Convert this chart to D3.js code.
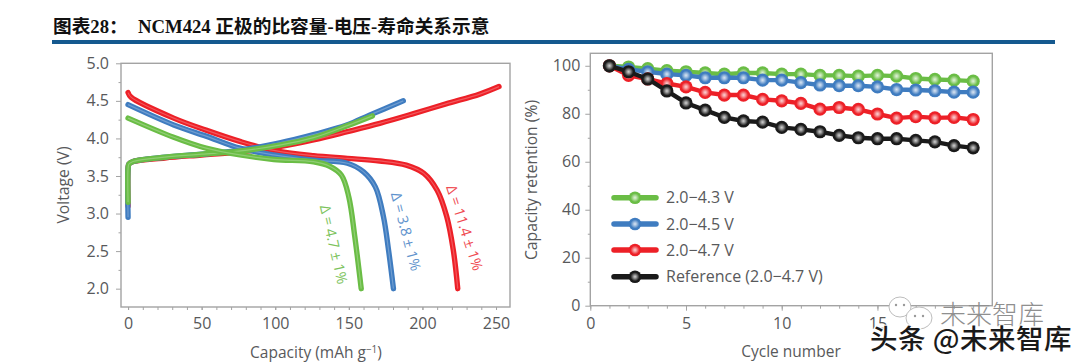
<!DOCTYPE html>
<html>
<head>
<meta charset="utf-8">
<script src="https://cdn.jsdelivr.net/npm/d3@7"></script>
<style>
  html, body { margin: 0; padding: 0; background: #fff; }
  svg { display: block; }
  text { font-family: "Open Sans", sans-serif; fill: #58595b; }
</style>
</head>
<body>
<svg id="chart" width="1080" height="364"></svg>
<script>
// voltage profiles, [capacity, voltage]
const charge47 = [[0, 3.1], [0, 3.6], [0.6, 3.66], [3, 3.69], [25, 3.74], [50, 3.78], [75, 3.82], [103, 3.89], [126, 3.98], [149, 4.09], [171, 4.2], [194, 4.33], [216, 4.46], [239, 4.59], [252, 4.69]];
const charge45 = [[0, 2.95], [0, 3.6], [0.6, 3.66], [3, 3.69], [25, 3.75], [50, 3.79], [75, 3.84], [103, 3.94], [126, 4.05], [149, 4.18], [164, 4.31], [187, 4.5]];
const charge43 = [[0, 3.15], [0, 3.6], [0.6, 3.66], [3, 3.69], [25, 3.75], [50, 3.79], [75, 3.83], [103, 3.91], [126, 4.01], [149, 4.17], [166, 4.3]];
const discharge47 = [[0, 4.61], [2, 4.55], [31, 4.27], [53, 4.11], [76, 3.96], [99, 3.84], [126, 3.77], [149, 3.735], [171, 3.7], [189, 3.645], [201, 3.535], [210, 3.31], [216.5, 2.96], [221, 2.51], [224, 2.0]];
const discharge45 = [[0, 4.45], [31, 4.18], [53, 4.03], [76, 3.87], [99, 3.78], [126, 3.71], [149, 3.67], [160, 3.555], [168, 3.355], [173.5, 2.96], [177, 2.51], [180.3, 2.0]];
const discharge43 = [[0, 4.27], [31, 4.015], [53, 3.87], [76, 3.78], [99, 3.72], [126, 3.69], [137, 3.63], [145, 3.51], [150, 3.22], [154, 2.7], [158.4, 2.0]];

// capacity retention per cycle
const cycles = d3.range(1, 21);
const retention43 = [100, 99.5, 98.8, 98, 97.5, 97, 96.5, 97, 97, 96.5, 96.5, 96, 96, 95.7, 96, 95.7, 94.7, 94.3, 94, 93.6];
const retention45 = [100, 98.5, 97.5, 96.5, 96, 95, 95, 95, 94, 94, 93, 92, 91.7, 91.7, 91.2, 90.1, 89.9, 89.6, 89, 89];
const retention47 = [100, 96, 94.5, 92.6, 91.2, 88.9, 87.8, 87.8, 86, 85.4, 84.3, 81.9, 82.6, 81.8, 79.9, 78.2, 78.8, 78.3, 78.5, 77.6];
const retentionRef = [100, 97.5, 94.5, 89.5, 84.5, 81.5, 78.5, 77, 76.5, 74.3, 73.5, 72.5, 71, 70, 69.6, 69.6, 68.9, 68.3, 66.7, 65.8];

const legendLabels = ["2.0\u22124.3 V", "2.0\u22124.5 V", "2.0\u22124.7 V", "Reference (2.0\u22124.7 V)"];

const green = "#6abd45", blue = "#3f7cc0", red = "#ed2027", black = "#1a1a1a";
const axisGrey = "#a3a3a3";

const svg = d3.select("#chart");

// heading
const head = svg.append("text").attr("x", 53).attr("y", 32.5)
  .style("font-family", '"Liberation Serif", "Noto Sans CJK SC", serif')
  .style("font-weight", 700).style("font-size", "18.7px").style("fill", "#111");
head.append("tspan").text("图表28：");
head.append("tspan").attr("x", 138).text("NCM424 正极的比容量-电压-寿命关系示意");
svg.append("rect").attr("x", 52).attr("y", 40).attr("width", 1003).attr("height", 4).attr("fill", "#15598f");

// ---- left panel
const xV = d3.scaleLinear().domain([-4.8, 259.5]).range([121, 510]);
const yV = d3.scaleLinear().domain([1.756, 5]).range([307, 63.3]);

const frame = (x0, x1, y0, y1) => svg.append("rect")
  .attr("x", x0).attr("y", y1).attr("width", x1 - x0).attr("height", y0 - y1)
  .attr("fill", "none").attr("stroke", axisGrey).attr("stroke-width", 1.4);

function styleAxis(g) {
  g.select(".domain").remove();
  g.selectAll("line").attr("stroke", axisGrey).attr("stroke-width", 1);
  g.selectAll("text").style("font-size", "16px").style("fill", "#58595b");
}

frame(121, 510, 307, 63.3);
svg.append("g").attr("transform", "translate(0,307)")
  .call(d3.axisBottom(xV).tickValues(d3.range(0, 251, 10)).tickSize(3).tickFormat(""))
  .call(styleAxis);
svg.append("g").attr("transform", "translate(0,307)")
  .call(d3.axisBottom(xV).tickValues(d3.range(0, 251, 50)).tickSize(3).tickPadding(8))
  .call(styleAxis);
svg.append("g").attr("transform", "translate(121,0)")
  .call(d3.axisLeft(yV).tickValues(d3.range(2.25, 5, 0.5)).tickSize(2.5).tickFormat(""))
  .call(styleAxis);
svg.append("g").attr("transform", "translate(121,0)")
  .call(d3.axisLeft(yV).tickValues(d3.range(2, 5.01, 0.5)).tickSize(5).tickPadding(7).tickFormat(d3.format(".1f")))
  .call(styleAxis);

svg.append("text").attr("transform", "translate(69,185) rotate(-90)").attr("text-anchor", "middle")
  .style("font-size", "15.7px").text("Voltage (V)");
const capLabel = svg.append("text").attr("x", 316).attr("y", 358).attr("text-anchor", "middle").style("font-size", "15.5px");
capLabel.append("tspan").text("Capacity (mAh g");
capLabel.append("tspan").attr("dy", -5).style("font-size", "10px").text("\u22121");
capLabel.append("tspan").attr("dy", 5).text(")");

const voltLine = d3.line().x(d => xV(d[0])).y(d => yV(d[1])).curve(d3.curveCatmullRom.alpha(0.5));

function drawProfile(points, colour) {
  svg.append("path").datum(points).attr("d", voltLine).attr("fill", "none")
    .attr("stroke", colour).attr("stroke-width", 5.4).attr("stroke-linecap", "round").attr("stroke-linejoin", "round");
  svg.append("path").datum(points).attr("d", voltLine).attr("fill", "none")
    .attr("stroke", "#fff").attr("stroke-opacity", 0.25).attr("stroke-width", 1.2);
}
drawProfile(charge47, red);
drawProfile(discharge47, red);
drawProfile(charge45, blue);
drawProfile(discharge45, blue);
drawProfile(charge43, green);
drawProfile(discharge43, green);

const deltaLabels = [
  { text: "\u0394 = 11.4 \u00b1 1%", colour: "#ef4b52", cap: 228.6, v: 2.81, rot: 72 },
  { text: "\u0394 = 3.8 \u00b1 1%", colour: "#5f93cd", cap: 188.8, v: 2.76, rot: 75.4 },
  { text: "\u0394 = 4.7 \u00b1 1%", colour: "#7cc35c", cap: 139.7, v: 2.59, rot: 77 }
];
deltaLabels.forEach(d => {
  svg.append("text")
    .attr("transform", `translate(${xV(d.cap)},${yV(d.v)}) rotate(${d.rot})`)
    .attr("dy", "0.35em").attr("text-anchor", "middle")
    .style("font-size", "14.5px").style("fill", d.colour).text(d.text);
});

// ---- right panel
const xC = d3.scaleLinear().domain([0, 21]).range([590.3, 992.3]);
const yR = d3.scaleLinear().domain([0, 105.2]).range([305.7, 53.3]);

frame(590.3, 992.3, 305.7, 53.3);
svg.append("g").attr("transform", "translate(0,305.7)")
  .call(d3.axisBottom(xC).tickValues(d3.range(0, 21, 1)).tickSize(3).tickFormat(""))
  .call(styleAxis);
svg.append("g").attr("transform", "translate(0,305.7)")
  .call(d3.axisBottom(xC).tickValues([0, 5, 10, 15]).tickSize(5).tickPadding(7))
  .call(styleAxis);
svg.append("g").attr("transform", "translate(590.3,0)")
  .call(d3.axisLeft(yR).tickValues(d3.range(10, 100, 20)).tickSize(2.5).tickFormat(""))
  .call(styleAxis);
svg.append("g").attr("transform", "translate(590.3,0)")
  .call(d3.axisLeft(yR).tickValues(d3.range(0, 101, 20)).tickSize(5).tickPadding(5))
  .call(styleAxis);

svg.append("text").attr("transform", "translate(537,180) rotate(-90)").attr("text-anchor", "middle")
  .style("font-size", "15.7px").text("Capacity retention (%)");
svg.append("text").attr("x", 791).attr("y", 357).attr("text-anchor", "middle")
  .style("font-size", "15.5px").text("Cycle number");

// shiny ball markers
const defs = svg.append("defs");
const ballFill = (name, colour) => {
  const grad = defs.append("radialGradient").attr("id", name);
  grad.append("stop").attr("offset", "0%").attr("stop-color", d3.interpolateRgb(colour, "#fff")(0.8));
  grad.append("stop").attr("offset", "25%").attr("stop-color", d3.interpolateRgb(colour, "#fff")(0.55));
  grad.append("stop").attr("offset", "70%").attr("stop-color", colour);
  return `url(#${name})`;
};

const retLine = d3.line().x((d, i) => xC(cycles[i])).y(d => yR(d));
const retentionSeries = [
  { name: "g", values: retention43, colour: green },
  { name: "b", values: retention45, colour: blue },
  { name: "r", values: retention47, colour: red },
  { name: "k", values: retentionRef, colour: black }
];
retentionSeries.forEach((s, i) => {
  const fill = ballFill("ball-" + s.name, s.colour);
  svg.append("path").datum(s.values).attr("d", retLine).attr("fill", "none")
    .attr("stroke", s.colour).attr("stroke-width", 4.4);
  svg.append("g").selectAll("circle").data(s.values).join("circle")
    .attr("cx", (d, j) => xC(cycles[j])).attr("cy", d => yR(d)).attr("r", 6.6).attr("fill", fill);

  // legend row
  const ly = [197.7, 224, 250, 276.7][i];
  svg.append("line").attr("x1", 614).attr("x2", 656).attr("y1", ly).attr("y2", ly)
    .attr("stroke", s.colour).attr("stroke-width", 5.5).attr("stroke-linecap", "round");
  svg.append("circle").attr("cx", 635).attr("cy", ly).attr("r", 6.3).attr("fill", fill);
  svg.append("text").attr("x", 666).attr("y", ly + 5.5).style("font-size", "16px").text(legendLabels[i]);
});

// watermark over the corner
const mark = svg.append("g");
[[900, 307, 11, 10], [919, 318, 13, 11]].forEach(b => {
  mark.append("ellipse").attr("cx", b[0]).attr("cy", b[1]).attr("rx", b[2]).attr("ry", b[3])
    .attr("fill", "#fff").attr("stroke", "#bdbdbd").attr("stroke-width", 1);
  mark.append("circle").attr("cx", b[0] - 4).attr("cy", b[1] - 2).attr("r", 1.2).attr("fill", "#999");
  mark.append("circle").attr("cx", b[0] + 4).attr("cy", b[1] - 2).attr("r", 1.2).attr("fill", "#999");
});
mark.append("text").attr("x", 940).attr("y", 324)
  .style("font-family", '"Noto Sans CJK SC"').style("font-weight", 300)
  .style("font-size", "26px").style("fill", "#8f8f8f").text("未来智库");
mark.append("text").attr("x", 870).attr("y", 349)
  .style("font-family", '"Noto Sans CJK SC"').style("font-size", "27.5px").style("font-weight", 500)
  .style("letter-spacing", "0.5px").style("fill", "#1a1a1a")
  .attr("stroke", "#fff").attr("stroke-width", 2).attr("paint-order", "stroke").text("头条 @未来智库");
</script>
</body>
</html>
